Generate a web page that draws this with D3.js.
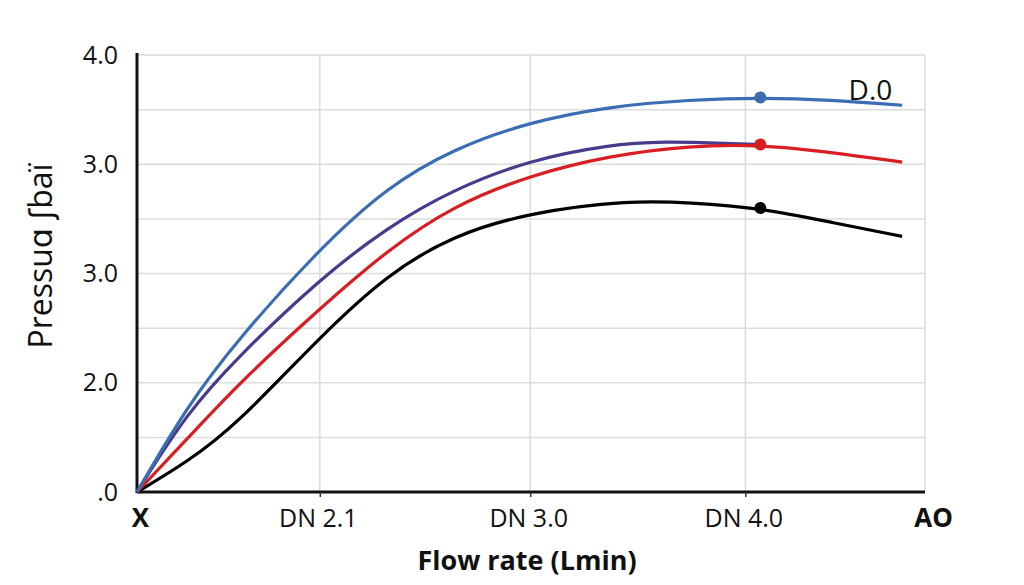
<!DOCTYPE html>
<meta charset="utf-8">
<script src="https://d3js.org/d3.v7.min.js"></script>
<style>
  body { margin: 0; background: #fff; }
  text { font-family: "Open Sans", "DejaVu Sans", sans-serif; }
</style>
<div id="my_dataviz"></div>
<script>

// x ticks (positions along the flow axis, 0-100) and their labels
var xTicks = [0, 23.2, 49.9, 77.2, 100];
var xLabels = ["X", "DN 2.1", "DN 3.0", "DN 4.0", "AO"];

// y ticks and labels (as printed on the chart)
var yTicks = [0, 1, 2, 3, 4];
var yLabels = [".0", "2.0", "3.0", "3.0", "4.0"];
var yGrid = [0, 0.5, 1, 1.5, 2, 2.5, 3, 3.5, 4];

// curves: [flow, pressure]
var blueData = [[0,0],[6.3,0.78],[12.7,1.39],[23.2,2.23],[31.7,2.79],[40.1,3.14],[49.9,3.39],[60.0,3.53],[70.2,3.59],[79.1,3.61],[88.0,3.59],[97.1,3.54]];
var purpleData = [[0,0],[6.3,0.72],[12.7,1.23],[23.2,1.95],[31.7,2.42],[40.1,2.77],[49.9,3.04],[60.0,3.18],[66.8,3.21],[75.3,3.19],[79.1,3.18]];
var redData = [[0,0],[6.3,0.48],[12.7,0.98],[23.2,1.68],[31.7,2.21],[40.1,2.62],[49.9,2.90],[60.0,3.08],[70.2,3.17],[79.1,3.18],[88.0,3.11],[97.1,3.02]];
var blackData = [[0,0],[6.3,0.27],[12.7,0.62],[23.2,1.42],[31.7,1.99],[40.1,2.35],[49.9,2.56],[62.6,2.67],[70.2,2.65],[79.1,2.60],[88.0,2.47],[97.1,2.34]];

// marker points
var markers = [
  {x: 79.1, y: 3.61, color: "#3b6db3"},
  {x: 79.1, y: 3.18, color: "#d81e22"},
  {x: 79.1, y: 2.60, color: "#000000"}
];

var margin = {top: 55, right: 99, bottom: 93, left: 137},
    width = 1024 - margin.left - margin.right,
    height = 585 - margin.top - margin.bottom;

var svg = d3.select("#my_dataviz")
  .append("svg")
    .attr("width", 1024)
    .attr("height", 585)
  .append("g")
    .attr("transform", "translate(" + margin.left + "," + margin.top + ")");

var x = d3.scaleLinear().domain([0, 100]).range([0, width]);
var y = d3.scaleLinear().domain([0, 4]).range([height, 0]);

// gridlines
svg.append("g")
  .selectAll("line")
  .data(yGrid)
  .enter()
  .append("line")
    .attr("x1", 0)
    .attr("x2", width)
    .attr("y1", function(d) { return y(d); })
    .attr("y2", function(d) { return y(d); })
    .style("stroke", "#dcdcdc")
    .style("stroke-width", 1.5);

svg.append("g")
  .selectAll("line")
  .data(xTicks.slice(1))
  .enter()
  .append("line")
    .attr("x1", function(d) { return x(d); })
    .attr("x2", function(d) { return x(d); })
    .attr("y1", 0)
    .attr("y2", height)
    .style("stroke", "#dcdcdc")
    .style("stroke-width", 1.5);

// X axis
var xAxis = svg.append("g")
  .attr("transform", "translate(0," + height + ")")
  .call(d3.axisBottom(x).tickValues(xTicks).tickSize(5).tickFormat(function(d, i) { return xLabels[i]; }).tickPadding(12));
xAxis.select(".domain").attr("d", "M0,0H" + width).style("stroke", "#111").style("stroke-width", 3);
xAxis.selectAll(".tick line").style("stroke", "#333").style("stroke-width", 1.5);
xAxis.selectAll(".tick text")
  .style("font-size", function(d, i) { return (i == 0 || i == xTicks.length - 1) ? "26px" : "25px"; })
  .style("fill", "#111")
  .style("font-weight", function(d, i) { return (i == 0 || i == xTicks.length - 1) ? "bold" : "normal"; })
  .attr("dx", function(d, i) { return i == 0 ? 3 : (i == xTicks.length - 1 ? 8 : -2); });
xAxis.selectAll(".tick").filter(function(d, i) { return i == 0 || i == xTicks.length - 1; }).select("line").remove();

// Y axis
var yAxis = svg.append("g")
  .call(d3.axisLeft(y).tickValues(yTicks).tickSize(0).tickPadding(19).tickFormat(function(d, i) { return yLabels[i]; }));
yAxis.select(".domain").attr("d", "M0," + (height + 1) + "V-2").style("stroke", "#111").style("stroke-width", 3);
yAxis.selectAll(".tick text")
  .style("font-size", "25px")
  .style("fill", "#111");

// lines
var line = d3.line()
  .x(function(d) { return x(d[0]); })
  .y(function(d) { return y(d[1]); })
  .curve(d3.curveBasis);

var series = [
  {data: blackData, color: "#000000"},
  {data: purpleData, color: "#4a3a8e"},
  {data: redData, color: "#d81e22"},
  {data: blueData, color: "#3b6db3"}
];

svg.append("g")
  .selectAll("path")
  .data(series)
  .enter()
  .append("path")
    .attr("d", function(d) { return line(d.data); })
    .style("fill", "none")
    .style("stroke", function(d) { return d.color; })
    .style("stroke-width", 3.2);

// markers
svg.append("g")
  .selectAll("circle")
  .data(markers)
  .enter()
  .append("circle")
    .attr("cx", function(d) { return x(d.x); })
    .attr("cy", function(d) { return y(d.y); })
    .attr("r", 6)
    .style("fill", function(d) { return d.color; });

// series label
svg.append("text")
  .attr("x", x(90.3))
  .attr("y", y(3.61) + 2)
  .style("font-size", "28px")
  .style("fill", "#111")
  .text("D.0");

// X axis title
svg.append("text")
  .attr("x", 527 - margin.left)
  .attr("y", height + 78)
  .attr("text-anchor", "middle")
  .style("font-size", "27px")
  .style("font-weight", "bold")
  .style("fill", "#111")
  .text("Flow rate (Lmin)");

// Y axis title
svg.append("text")
  .attr("transform", "rotate(-90)")
  .attr("x", -(256 - margin.top))
  .attr("y", 52 - margin.left)
  .attr("text-anchor", "middle")
  .style("font-size", "32px")
  .style("fill", "#111")
  .text("Pressuɑ ʃbaï");

</script>
